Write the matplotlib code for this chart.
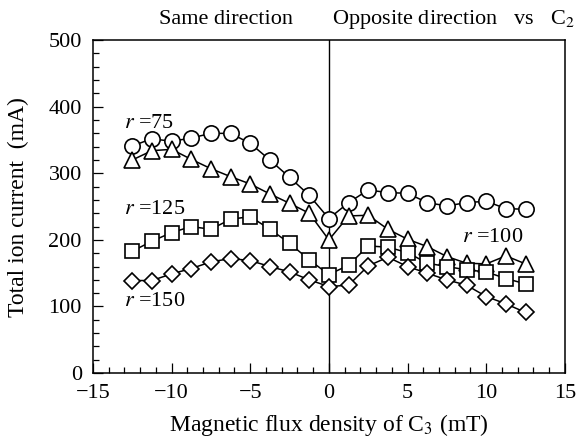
import numpy as np
import matplotlib
matplotlib.use("Agg")
import matplotlib.pyplot as plt
from matplotlib.ticker import MultipleLocator

plt.rcParams['font.family'] = ['Liberation Serif', 'DejaVu Serif']
plt.rcParams['mathtext.fontset'] = 'stix'

# flux density of C3 (mT)
flux = [-12.5, -11.25, -10, -8.75, -7.5, -6.25, -5, -3.75, -2.5, -1.25, 0,
        1.25, 2.5, 3.75, 5, 6.25, 7.5, 8.75, 10, 11.25, 12.5]

# total ion current (mA)
r75 = [341, 352, 348, 353, 360, 360, 345, 320, 294, 267, 232,
       256, 275, 271, 270, 256, 251, 256, 258, 247, 246]
r100 = [320, 334, 336, 321, 307, 295, 284, 269, 255, 240, 200,
        236, 237, 216, 201, 190, 175, 165, 164, 176, 164]
r125 = [183, 198, 211, 220, 216, 231, 235, 216, 195, 170, 148,
        162, 191, 189, 181, 165, 160, 155, 152, 142, 134]
r150 = [139, 139, 149, 157, 167, 172, 169, 160, 152, 140, 130,
        132, 161, 174, 160, 150, 140, 132, 115, 104, 91]

fig = plt.figure(figsize=(5.77, 4.41), dpi=100)
ax = fig.add_axes([0.161, 0.154, 0.818, 0.755])

style = dict(color='black', lw=1.1, markerfacecolor='white',
             markeredgecolor='black', markeredgewidth=1.2)
ax.plot(flux, r75, marker='o', ms=11, **style)
ax.plot(flux, r100, marker='^', ms=11, **style)
ax.plot(flux, r125, marker='s', ms=9.5, **style)
ax.plot(flux, r150, marker='D', ms=8.5, **style)

ax.axvline(0, color='black', lw=1.0, zorder=0)

ax.set_xlim(-15, 15)
ax.set_ylim(0, 500)
ax.xaxis.set_major_locator(MultipleLocator(5))
ax.xaxis.set_minor_locator(MultipleLocator(1))
ax.yaxis.set_major_locator(MultipleLocator(100))
ax.yaxis.set_minor_locator(MultipleLocator(20))
ax.tick_params(which='both', direction='in', top=False, right=False,
               labelsize=16, width=0.9)
ax.tick_params(which='major', length=7)
ax.tick_params(which='minor', length=4)
ax.tick_params(axis='x', pad=8)
ax.tick_params(axis='y', pad=8)

for s in ax.spines.values():
    s.set_linewidth(1.1)

ax.set_xlabel('Magnetic flux density of C$_3$ (mT)', fontsize=17, labelpad=6)
ax.set_ylabel('Total ion current  (mA)', fontsize=17, labelpad=14)

lab = dict(fontsize=16, ha='left', va='center')
ax.text(-13.0, 375, r'$\it{r}$ =75', **lab)
ax.text(-13.0, 245, r'$\it{r}$ =125', **lab)
ax.text(-13.0, 107, r'$\it{r}$ =150', **lab)
ax.text(8.45, 204, r'$\it{r}$ =100', **lab)

fig.text(0.392, 0.955, 'Same direction', fontsize=16, ha='center', va='center')
fig.text(0.575, 0.955, 'Opposite direction   vs   C$_2$', fontsize=16,
         ha='left', va='center')

fig.savefig('out.png', dpi=100)
